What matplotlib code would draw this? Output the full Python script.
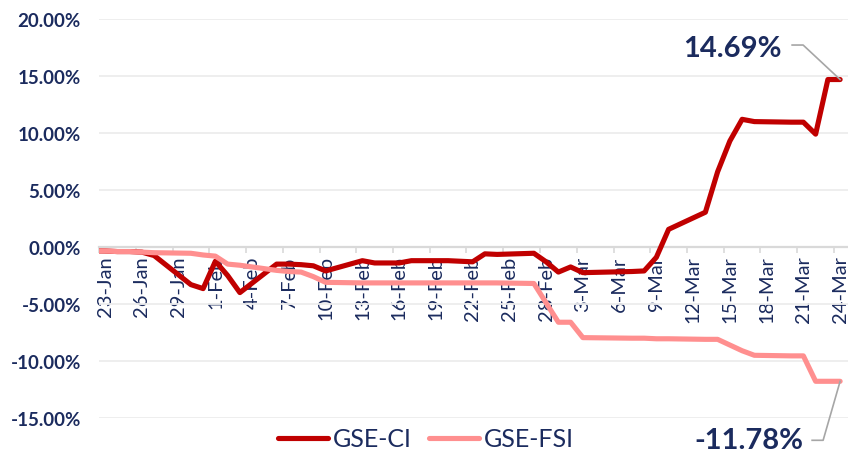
import matplotlib
matplotlib.use("Agg")
import matplotlib.pyplot as plt
from matplotlib.lines import Line2D
from matplotlib.transforms import IdentityTransform
import pandas as pd
import numpy as np

# ---------------- data ----------------
dates = ['2023-01-20', '2023-01-23', '2023-01-24', '2023-01-25', '2023-01-26', '2023-01-27',
         '2023-01-30', '2023-01-31', '2023-02-01', '2023-02-02', '2023-02-03',
         '2023-02-06', '2023-02-07', '2023-02-08', '2023-02-09', '2023-02-10',
         '2023-02-13', '2023-02-14', '2023-02-15', '2023-02-16', '2023-02-17',
         '2023-02-20', '2023-02-21', '2023-02-22', '2023-02-23', '2023-02-24',
         '2023-02-27', '2023-02-28', '2023-03-01', '2023-03-02', '2023-03-03',
         '2023-03-07', '2023-03-08', '2023-03-09', '2023-03-10',
         '2023-03-13', '2023-03-14', '2023-03-15', '2023-03-16', '2023-03-17',
         '2023-03-20', '2023-03-21', '2023-03-22', '2023-03-23', '2023-03-24']

gse_ci = [-0.30, -0.35, -0.40, -0.40, -0.45, -0.75,
          -3.30, -3.65, -1.25, -2.50, -4.00,
          -1.50, -1.50, -1.55, -1.65, -2.10,
          -1.20, -1.40, -1.40, -1.40, -1.20,
          -1.20, -1.25, -1.30, -0.60, -0.65,
          -0.55, -1.30, -2.20, -1.75, -2.25,
          -2.15, -2.10, -0.90, 1.55,
          3.05, 6.60, 9.30, 11.20, 11.00,
          10.95, 10.95, 9.90, 14.69, 14.69]

gse_fsi = [-0.30, -0.35, -0.40, -0.40, -0.45, -0.50,
           -0.55, -0.70, -0.80, -1.50, -1.60,
           -2.05, -2.15, -2.20, -2.60, -3.10,
           -3.15, -3.15, -3.15, -3.15, -3.15,
           -3.15, -3.15, -3.15, -3.15, -3.15,
           -3.20, -4.90, -6.60, -6.60, -7.95,
           -8.00, -8.00, -8.05, -8.05,
           -8.10, -8.10, -8.60, -9.10, -9.50,
           -9.55, -9.55, -11.78, -11.78, -11.78]

series_names = ['GSE-CI', 'GSE-FSI']
axis_start = '2023-01-23'
tick_labels = ['23-Jan', '26-Jan', '29-Jan', '1-Feb', '4-Feb', '7-Feb', '10-Feb', '13-Feb',
               '16-Feb', '19-Feb', '22-Feb', '25-Feb', '28-Feb', '3-Mar', '6-Mar', '9-Mar',
               '12-Mar', '15-Mar', '18-Mar', '21-Mar', '24-Mar']
y_ticks = [-15, -10, -5, 0, 5, 10, 15, 20]

# ---------------- style ----------------
NAVY = '#1B2B5E'
RED = '#C00000'
PINK = '#FF8F8F'
GRID = '#EDEDED'
AXIS = '#D9D9D9'
FONT = ['Lato', 'DejaVu Sans']
plt.rcParams['font.family'] = FONT

d0 = pd.Timestamp(axis_start)
x = np.array([(pd.Timestamp(d) - d0).days for d in dates], dtype=float)
tick_pos = np.arange(len(tick_labels)) * 3.0

fig = plt.figure(figsize=(8.48, 4.56), dpi=100)
W, H = 848, 456
ax = fig.add_axes([99 / W, 1 - 419 / H, (W - 99) / W, (419 - 20) / H])

ax.plot(x, gse_ci, color=RED, lw=3.7, solid_capstyle='round', solid_joinstyle='round',
        label=series_names[0], zorder=3)
ax.plot(x, gse_fsi, color=PINK, lw=3.7, solid_capstyle='round', solid_joinstyle='round',
        label=series_names[1], zorder=4)

ax.set_xlim(-0.5, -0.5 + (W - 99) / 12.25)
ax.set_ylim(-15, 20)

# y axis
ax.set_yticks(y_ticks)
ax.set_yticklabels([f'{v:.2f}%' for v in y_ticks])
ax.tick_params(axis='y', length=0, pad=13, labelsize=13.5, labelcolor=NAVY)
for t in ax.get_yticklabels():
    t.set_fontweight('bold')
ax.yaxis.grid(True, color=GRID, lw=1.3)
ax.set_axisbelow(True)

# x axis crossing at zero
for s in ['top', 'right', 'left']:
    ax.spines[s].set_visible(False)
ax.spines['bottom'].set_position(('data', 0))
ax.spines['bottom'].set_color(AXIS)
ax.spines['bottom'].set_linewidth(1.6)
ax.spines['bottom'].set_zorder(2)
ax.set_xticks(tick_pos)
ax.set_xticklabels(tick_labels, rotation=90)
ax.set_xticks(tick_pos - 0.5, minor=True)
ax.tick_params(axis='x', which='major', length=0, pad=6, labelsize=14.5, labelcolor=NAVY)
ax.tick_params(axis='x', which='minor', length=4.5, width=1.2, color=AXIS, direction='out')

# legend
fig.legend(loc='center', bbox_to_anchor=(426 / W, 1 - 440 / H), ncol=2, frameon=False,
           fontsize=18, labelcolor=NAVY, handlelength=2.0, handletextpad=0.2,
           columnspacing=0.7)

# end-value annotations with leader lines
fig.canvas.draw()
GRAY = '#A6A6A6'
for vals, txt_dy, line_dy, txt_dx, l0, l1 in [
        (gse_ci, 32, 34.5, -58, -48, -37),
        (gse_fsi, -59, -59, -37, -28, -17)]:
    px, py = ax.transData.transform((x[-1], vals[-1]))
    fig.add_artist(Line2D([px + l0, px + l1, px], [py + line_dy, py + line_dy, py],
                          transform=IdentityTransform(), color=GRAY, lw=1.2, zorder=5))
    fig.text((px + txt_dx) / W, (py + txt_dy) / H, f'{vals[-1]:.2f}%', ha='right',
             va='center', fontsize=21, fontweight='bold', color=NAVY)

fig.savefig('out.png', dpi=100)
